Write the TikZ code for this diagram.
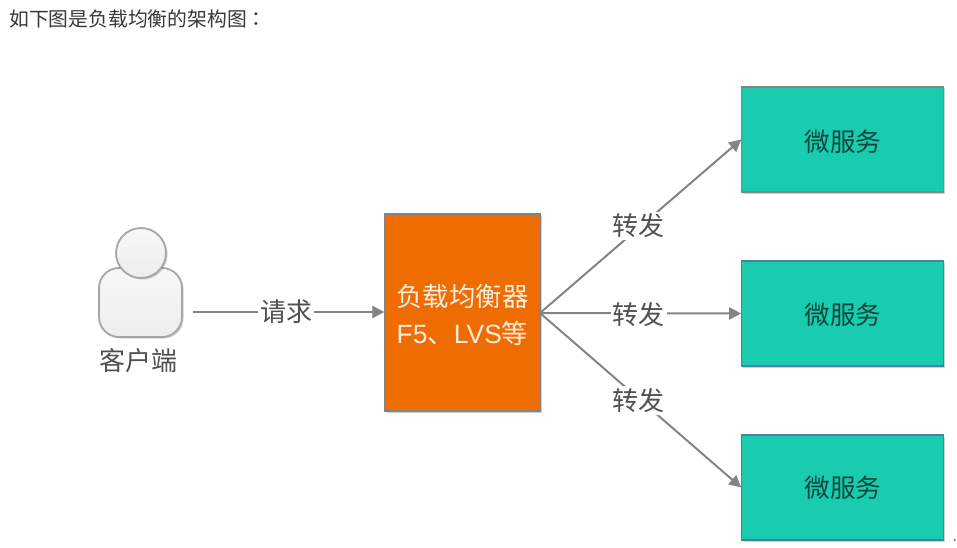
\documentclass[tikz,border=0pt]{standalone}
\usepackage{fontspec}
\setmainfont{Noto Sans CJK SC}
\newfontfamily\tcfont{Noto Sans CJK TC}
\newfontfamily\latinfont{Liberation Sans}
\usetikzlibrary{arrows.meta,shadows}
\definecolor{orangebox}{HTML}{EE6C00}
\definecolor{tealbox}{HTML}{19CCB0}
\definecolor{linegray}{HTML}{848484}
\definecolor{bluegray}{HTML}{4F7FA0}
\definecolor{lbl}{HTML}{505050}
\tikzset{
  px/.style={x=1pt,y=-1pt},
  softshadow/.style={general shadow={shadow xshift=1.5pt,shadow yshift=-1.5pt,fill=black,opacity=.18}},
  svc/.style={draw=#1,line width=1.2pt,fill=tealbox,minimum width=202pt,minimum height=105pt,inner sep=0pt,
     text=black!65!tealbox,font=\fontsize{25.6}{26}\selectfont,softshadow},
  lb/.style={draw=linegray,line width=1.2pt,fill=orangebox,minimum width=155pt,minimum height=197pt,inner sep=0pt,
     text=white!88!orangebox,font=\fontsize{26.4}{37}\selectfont,align=center,softshadow},
  edgelbl/.style={fill=white,inner sep=2pt,text=lbl,font=\fontsize{26}{26}\selectfont},
  conn/.style={draw=linegray,line width=2pt,-{Triangle[length=12pt,width=12pt]}},
  bodyshape/.style={draw=black!35,line width=1.8pt,top color=white!97!black,bottom color=white!93!black,softshadow},
}
\begin{document}
\begin{tikzpicture}[px]
\useasboundingbox (0,0) rectangle (957,548);
\fill[white] (0,0) rectangle (957,548);
\node[anchor=west,text=black!78,inner sep=0pt,font=\fontsize{19.8}{20}\selectfont] (title) at (9,19) {如下图是负载均衡的架构图{\tcfont ：}};
% client
\node[bodyshape,rounded corners=20pt,minimum width=83pt,minimum height=69pt,inner sep=0pt] (body) at (140.5,302.5) {};
\node[bodyshape,circle,minimum size=50pt,inner sep=0pt] (head) at (141,253) {};
\node[text=lbl,inner sep=0pt,font=\fontsize{26}{26}\selectfont] (clientlabel) at (138.5,361) {客户端};
\coordinate (cout) at (193,312);
% load balancer
\node[lb] (lb) at (462.5,312.5) {\rule{0pt}{28pt}负载均衡器\hspace{2pt}\\{\latinfont F5}、{\latinfont LVS}等\hspace{2pt}};
\coordinate (lbr) at (540,313);
% services
\node[svc=linegray] (s1) at (842.8,139.5) {\rule{0pt}{26.5pt}微服务\hspace{2pt}};
\node[svc=bluegray] (s2) at (842.8,313.5) {\rule{0pt}{24.5pt}微服务\hspace{2pt}};
\node[svc=bluegray] (s3) at (842.8,487.5) {微服务\hspace{2pt}};
% stray mark at the lower right corner
\node[circle,fill=linegray,minimum size=2.5pt,inner sep=0pt] (dot) at (954.5,540) {};
% connectors
\draw[conn] (cout) -- (lb.west |- cout) node[edgelbl,pos=.487] (l0) {请求};
\draw[conn] (lbr) -- (s1.west) node[edgelbl,pos=.49,yshift=2pt] (l1) {转发};
\draw[conn] (lbr) -- (s2.west) node[edgelbl,pos=.49,yshift=-1pt] (l2) {转发};
\draw[conn] (lbr) -- (s3.west) node[edgelbl,pos=.49,yshift=-2pt] (l3) {转发};
\end{tikzpicture}
\end{document}
